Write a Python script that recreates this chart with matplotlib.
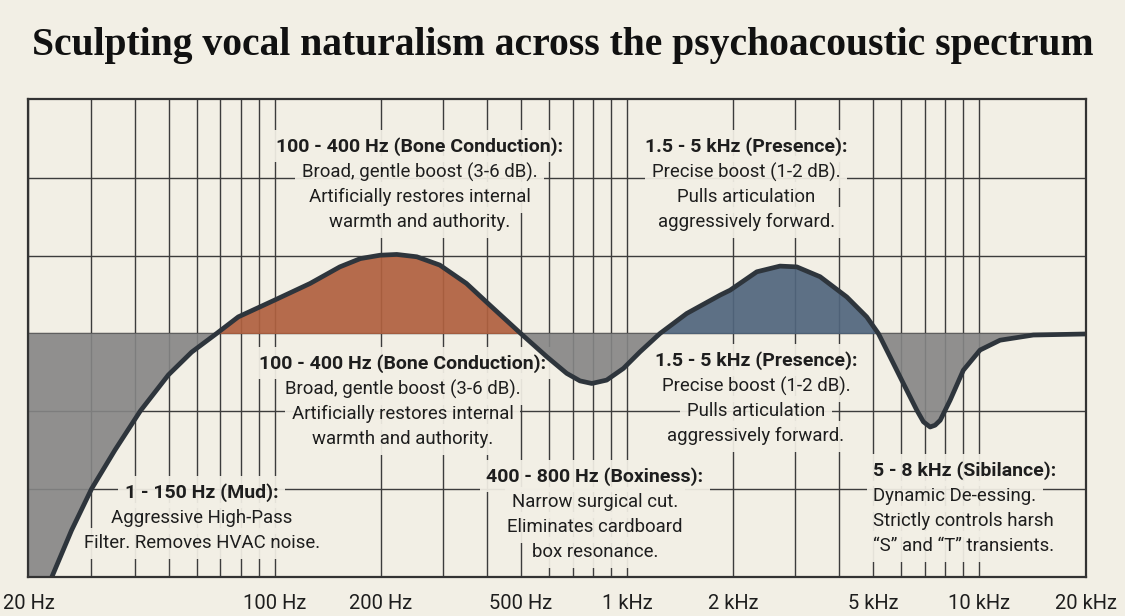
import numpy as np
import matplotlib
matplotlib.use("Agg")
import matplotlib.pyplot as plt
from matplotlib.ticker import FixedLocator, NullFormatter

# EQ curve (frequency in Hz, gain in dB)
freq = [20, 23.3, 26.5, 30.2, 35.2, 41.5, 49.9, 58.1, 68.4, 78.8, 100, 126, 153,
        175, 199, 222, 253, 294, 350, 408, 499, 592, 674, 735, 794, 875, 976,
        1088, 1240, 1476, 1836, 1960, 2334, 2716, 3030, 3530, 4202, 4787, 5166,
        5576, 6082, 6640, 6934, 7245, 7485, 7740, 8260, 9000, 10040, 11440,
        14220, 20000]
gain = [-11.5, -9.4, -7.6, -6.0, -4.5, -3.0, -1.6, -0.72, 0.0, 0.64, 1.29, 1.93,
        2.57, 2.89, 3.02, 3.05, 2.96, 2.64, 1.93, 1.09, 0.0, -0.90, -1.54, -1.83,
        -1.93, -1.80, -1.35, -0.71, 0.0, 0.77, 1.48, 1.67, 2.38, 2.60, 2.57, 2.19,
        1.41, 0.64, 0.0, -0.90, -1.93, -2.96, -3.41, -3.61, -3.54, -3.35, -2.57,
        -1.42, -0.64, -0.26, -0.06, -0.02]

major_ticks = [20, 100, 200, 500, 1000, 2000, 5000, 10000, 20000]
major_labels = ["20 Hz", "100 Hz", "200 Hz", "500 Hz", "1 kHz", "2 kHz",
                "5 kHz", "10 kHz", "20 kHz"]
minor_ticks = [30, 40, 50, 60, 70, 80, 90, 300, 400, 600, 700, 800, 900,
               3000, 4000, 6000, 7000, 8000, 9000]
db_grid = [-6, -3, 0, 3, 6]

# (anchor freq, anchor dB, alignment, header, body lines)
notes = [
    (258, 7.23, "center", "100 - 400 Hz (Bone Conduction):",
     ["Broad, gentle boost (3-6 dB).", "Artificially restores internal",
      "warmth and authority."]),
    (2177, 7.23, "center", "1.5 - 5 kHz (Presence):",
     ["Precise boost (1-2 dB).", "Pulls articulation", "aggressively forward."]),
    (231, -1.15, "center", "100 - 400 Hz (Bone Conduction):",
     ["Broad, gentle boost (3-6 dB).", "Artificially restores internal",
      "warmth and authority."]),
    (2322, -1.03, "center", "1.5 - 5 kHz (Presence):",
     ["Precise boost (1-2 dB).", "Pulls articulation", "aggressively forward."]),
    (811, -5.51, "center", "400 - 800 Hz (Boxiness):",
     ["Narrow surgical cut.", "Eliminates cardboard", "box resonance."]),
    (62, -6.13, "center", "1 - 150 Hz (Mud):",
     ["Aggressive High-Pass", "Filter. Removes HVAC noise."]),
    (4990, -5.28, "left", "5 - 8 kHz (Sibilance):",
     ["Dynamic De-essing.", "Strictly controls harsh",
      "\u201cS\u201d and \u201cT\u201d transients."]),
]

bg = "#F2EFE5"
ink = "#1E1E1E"
orange = "#B0603F"
blue = "#50657D"
grey = "#858585"
line_col = "#2E353C"

plt.rcParams["font.family"] = ["Roboto", "DejaVu Sans"]

fig = plt.figure(figsize=(11.25, 6.16), dpi=100, facecolor=bg)
ax = fig.add_axes([0.0253, 0.0633, 0.9396, 0.776])
ax.set_facecolor(bg)

f = np.array(freq)
g = np.array(gain)

# fills sit above the label boxes but stay see-through so the grid shows
ax.fill_between(f, g, 0, where=(g >= 0) & (f < 1000), interpolate=True,
                color=orange, alpha=0.92, lw=0, zorder=4.5)
ax.fill_between(f, g, 0, where=(g >= 0) & (f > 1000), interpolate=True,
                color=blue, alpha=0.92, lw=0, zorder=4.5)
ax.fill_between(f, g, 0, where=g <= 0, interpolate=True,
                color=grey, alpha=0.9, lw=0, zorder=4.5)
ax.plot(f, g, color=line_col, lw=3.4, solid_capstyle="round",
        solid_joinstyle="round", zorder=6)

ax.set_xscale("log")
ax.set_xlim(20, 20000)
ax.set_ylim(-9.4, 9.05)

ax.xaxis.set_major_locator(FixedLocator(major_ticks))
ax.set_xticklabels(major_labels)
ax.xaxis.set_minor_locator(FixedLocator(minor_ticks))
ax.xaxis.set_minor_formatter(NullFormatter())
ax.set_yticks(db_grid)
ax.set_yticklabels([])
ax.tick_params(axis="both", which="both", length=0)
ax.tick_params(axis="x", which="major", pad=12, labelsize=14.5, labelcolor=ink)

ax.set_axisbelow(False)
ax.grid(True, which="both", axis="x", color="#3C3C3C", lw=1.0, zorder=2)
ax.grid(True, which="major", axis="y", color="#3C3C3C", lw=1.0, zorder=2)
for s in ax.spines.values():
    s.set_color("#333333")
    s.set_linewidth(1.6)
    s.set_zorder(7)

box = dict(boxstyle="square,pad=0.35", fc=bg, ec="none", alpha=0.93)
for x, y, ha, head, body in notes:
    ax.annotate(head, xy=(x, y), xytext=(0, 0), textcoords="offset points",
                ha=ha, va="center", fontsize=14, fontweight="bold",
                color=ink, bbox=box, zorder=4)
    for i, line in enumerate(body):
        ax.annotate(line, xy=(x, y), xytext=(0, -18.7 - 18 * i),
                    textcoords="offset points", ha=ha, va="center",
                    fontsize=13.4, color=ink, bbox=box, zorder=4)

fig.text(0.5, 1 - 46 / 616, "Sculpting vocal naturalism across the psychoacoustic spectrum",
         ha="center", va="center", fontsize=28.5, fontweight="bold",
         family=["Liberation Serif", "DejaVu Serif"], color="#111111")

fig.savefig("out.png", dpi=100, facecolor=bg)
